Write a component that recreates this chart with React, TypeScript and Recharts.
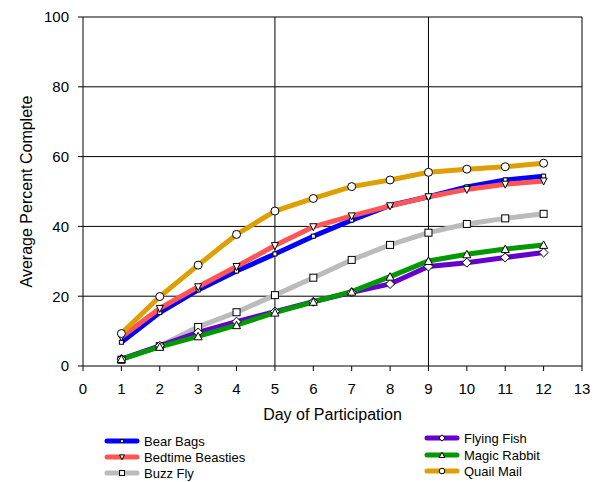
import React from 'react';
import { LineChart, Line, XAxis, YAxis, ReferenceLine, Label } from 'recharts';

// day 1..12
const days = [1, 2, 3, 4, 5, 6, 7, 8, 9, 10, 11, 12];

const bearBags = [6.8, 15.3, 21.8, 27.2, 32.1, 37.2, 41.8, 46.0, 48.5, 51.3, 53.3, 54.4];
const bedtimeBeasties = [8.3, 16.5, 22.7, 28.5, 34.5, 39.9, 43.0, 45.9, 48.5, 50.6, 52.1, 53.0];
const buzzFly = [1.8, 5.7, 11.2, 15.4, 20.3, 25.3, 30.4, 34.7, 38.2, 40.7, 42.3, 43.6];
const flyingFish = [2.0, 5.8, 9.6, 12.7, 15.6, 18.4, 21.1, 23.5, 28.5, 29.6, 31.1, 32.5];
const magicRabbit = [2.0, 5.5, 8.5, 11.7, 15.3, 18.4, 21.3, 25.6, 30.1, 32.0, 33.5, 34.7];
const quailMail = [9.3, 19.9, 28.9, 37.7, 44.4, 48.0, 51.4, 53.3, 55.5, 56.4, 57.1, 58.1];

const xTicks = [0, 1, 2, 3, 4, 5, 6, 7, 8, 9, 10, 11, 12, 13];
const yTicks = [0, 20, 40, 60, 80, 100];
const gridDays = [5, 9, 13];
const gridPercents = [20, 40, 60, 80, 100];

const data = days.map((day, i) => ({
  day,
  bearBags: bearBags[i],
  bedtimeBeasties: bedtimeBeasties[i],
  buzzFly: buzzFly[i],
  flyingFish: flyingFish[i],
  magicRabbit: magicRabbit[i],
  quailMail: quailMail[i],
}));

type Marker = 'dot' | 'down' | 'square' | 'diamond' | 'up' | 'circle';

const MarkerShape = ({ cx, cy, kind, s = 1 }: { cx: number; cy: number; kind: Marker; s?: number }) => {
  const common = { fill: '#fff', stroke: '#000', strokeWidth: 1 };
  switch (kind) {
    case 'dot':
      return <rect x={cx - 2 * s} y={cy - 2 * s} width={4 * s} height={4 * s} {...common} />;
    case 'down':
      return <polygon points={`${cx - 3.5 * s},${cy - 3 * s} ${cx + 3.5 * s},${cy - 3 * s} ${cx},${cy + 4 * s}`} {...common} />;
    case 'square':
      return <rect x={cx - 3.5 * s} y={cy - 3.5 * s} width={7 * s} height={7 * s} {...common} />;
    case 'diamond':
      return <polygon points={`${cx},${cy - 4.5 * s} ${cx + 4.5 * s},${cy} ${cx},${cy + 4.5 * s} ${cx - 4.5 * s},${cy}`} {...common} />;
    case 'up':
      return <polygon points={`${cx - 4 * s},${cy + 3.5 * s} ${cx + 4 * s},${cy + 3.5 * s} ${cx},${cy - 4 * s}`} {...common} />;
    default:
      return <circle cx={cx} cy={cy} r={4 * s} {...common} />;
  }
};

const series: { key: string; name: string; color: string; marker: Marker }[] = [
  { key: 'bearBags', name: 'Bear Bags', color: '#0000FF', marker: 'dot' },
  { key: 'bedtimeBeasties', name: 'Bedtime Beasties', color: '#FF5555', marker: 'down' },
  { key: 'buzzFly', name: 'Buzz Fly', color: '#BBBBBB', marker: 'square' },
  { key: 'flyingFish', name: 'Flying Fish', color: '#6600CC', marker: 'diamond' },
  { key: 'magicRabbit', name: 'Magic Rabbit', color: '#009900', marker: 'up' },
  { key: 'quailMail', name: 'Quail Mail', color: '#DDA000', marker: 'circle' },
];

const font = 'Arial, "Liberation Sans", sans-serif';

const LegendItem = ({ s, left, top }: { s: (typeof series)[number]; left: number; top: number }) => (
  <div style={{ position: 'absolute', left, top, display: 'flex', alignItems: 'center', height: 16 }}>
    <svg width={36} height={10} style={{ marginRight: 4 }}>
      <line x1={3} y1={5} x2={33} y2={5} stroke={s.color} strokeWidth={5} strokeLinecap="round" />
      <MarkerShape cx={18} cy={5} kind={s.marker} s={0.7} />
    </svg>
    <span style={{ fontSize: 13, fontFamily: font, color: '#000' }}>{s.name}</span>
  </div>
);

export default function App() {
  return (
    <div style={{ position: 'absolute', left: 0, top: 0, width: 603, height: 482, background: '#fff' }}>
      <LineChart
        width={603}
        height={482}
        data={data}
        margin={{ top: 17, right: 21, left: 0, bottom: 60 }}
        style={{ fontFamily: font }}
      >
        {gridPercents.map((v) => (
          <ReferenceLine key={`h${v}`} y={v} stroke="#000" strokeWidth={1} />
        ))}
        {gridDays.map((d) => (
          <ReferenceLine key={`v${d}`} x={d} stroke="#000" strokeWidth={1} />
        ))}
        <XAxis
          dataKey="day"
          type="number"
          domain={[0, 13]}
          ticks={xTicks}
          interval={0}
          height={56}
          tickSize={5}
          tickMargin={12}
          stroke="#000"
          tick={{ fill: '#000', fontSize: 15 }}
        >
          <Label value="Day of Participation" position="insideBottom" offset={2} fill="#000" fontSize={16} />
        </XAxis>
        <YAxis
          type="number"
          domain={[0, 100]}
          ticks={yTicks}
          interval={0}
          width={83}
          tickSize={5}
          tickMargin={9}
          stroke="#000"
          tick={{ fill: '#000', fontSize: 15 }}
        >
          <Label
            content={({ viewBox }: any) => {
              const x = viewBox.x + 26;
              const y = viewBox.y + viewBox.height / 2;
              return (
                <text x={x} y={y} transform={`rotate(-90 ${x} ${y})`} textAnchor="middle" dominantBaseline="central" fontSize={16} fill="#000">
                  Average Percent Complete
                </text>
              );
            }}
          />
        </YAxis>
        {series.map((s) => (
          <Line
            key={s.key}
            dataKey={s.key}
            name={s.name}
            stroke={s.color}
            strokeWidth={5}
            type="linear"
            isAnimationActive={false}
            dot={(p: any) => <MarkerShape key={`${s.key}-${p.index}`} cx={p.cx} cy={p.cy} kind={s.marker} />}
            activeDot={false}
          />
        ))}
      </LineChart>
      <LegendItem s={series[0]} left={104} top={433} />
      <LegendItem s={series[1]} left={104} top={449} />
      <LegendItem s={series[2]} left={104} top={465} />
      <LegendItem s={series[3]} left={424} top={430} />
      <LegendItem s={series[4]} left={424} top={447} />
      <LegendItem s={series[5]} left={424} top={463} />
    </div>
  );
}
